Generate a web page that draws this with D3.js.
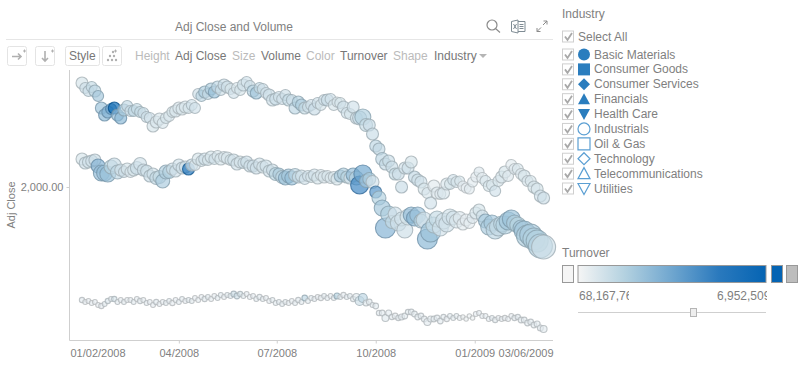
<!DOCTYPE html>
<html>
<head>
<meta charset="utf-8">
<script src="https://cdn.jsdelivr.net/npm/d3@7"></script>
<style>
  html, body { margin: 0; padding: 0; background: #fff; overflow: hidden; }
  svg { display: block; }
  text { font-family: "Liberation Sans", Arial, sans-serif; }
</style>
</head>
<body>
<div id="chart"></div>
<script>
// Adj Close, one value every 3 calendar days from 01/02/2008 to 03/06/2009
const closeA = [
  3040,2990,2960,3000,2960,2910,2790,2720,2750,2780,2790,2720,
  2690,2770,2810,2760,2760,2780,2750,2740,2700,2690,2610,2650,
  2680,2640,2690,2710,2750,2760,2790,2780,2800,2790,2820,2790,
  2930,2910,2950,2930,2980,2950,3000,2970,3020,3000,2980,2940,
  2990,2970,3020,3050,3010,2960,2940,2990,2980,2940,2920,2870,
  2880,2900,2880,2920,2870,2870,2790,2850,2820,2790,2800,2820,
  2780,2840,2820,2870,2870,2880,2820,2850,2840,2800,2740,2730,
  2800,2690,2690,2700,2620,2620,2530,2410,2380,2280,2230,2260,
  2200,2130,2130,2000,2190,2190,2250,2100,2070,2050,1980,1940,
  1840,2010,1940,1930,1940,2030,2030,2070,2050,2060,2010,1990,
  1980,2050,2100,2150,2090,2060,2010,2020,1960,2060,2100,2150,
  2110,2220,2180,2180,2130,2110,2060,2060,2000,1980,1910,1890
];
const closeB = [
  2280,2240,2250,2260,2270,2210,2140,2140,2130,2200,2220,2150,
  2170,2150,2180,2150,2170,2190,2230,2170,2160,2110,2130,2090,
  2100,2060,2150,2150,2180,2160,2220,2190,2200,2180,2220,2220,
  2280,2260,2280,2270,2300,2280,2310,2280,2300,2290,2270,2270,
  2230,2250,2240,2250,2210,2210,2190,2230,2200,2210,2160,2170,
  2130,2130,2100,2090,2110,2090,2120,2100,2110,2080,2110,2100,
  2120,2090,2120,2100,2110,2090,2100,2080,2110,2130,2100,2090,
  2120,2090,2020,2130,2060,2080,2050,1950,1890,1790,1590,1730,
  1650,1730,1640,1680,1570,1700,1720,1690,1720,1660,1670,1480,
  1550,1620,1680,1590,1660,1630,1700,1690,1660,1690,1630,1670,
  1640,1690,1740,1770,1710,1660,1600,1640,1570,1600,1630,1620,
  1660,1680,1640,1620,1590,1560,1510,1520,1480,1460,1410,1400
];
const closeC = [
  870,850,860,840,850,820,810,830,860,880,880,850,
  870,850,870,870,850,880,860,870,840,850,820,850,
  830,850,840,860,840,870,850,880,860,870,860,890,
  870,900,880,900,880,910,890,920,900,920,910,930,
  910,930,910,930,900,910,880,900,880,890,860,870,
  840,850,830,850,840,860,840,870,850,890,860,890,
  880,900,890,910,890,910,890,910,900,920,900,910,
  880,900,860,890,840,850,820,810,740,740,690,740,
  700,710,690,700,710,750,750,730,700,710,680,650,
  680,680,690,660,700,680,710,690,710,690,700,680,
  710,690,730,740,710,710,680,690,670,690,680,690,
  680,710,690,700,670,670,640,650,620,630,590,580
];

// Volume
const volumeA = [
  36,30,30,30,36,30,36,36,36,30,36,36,
  36,36,30,30,30,30,30,30,30,30,36,36,
  36,30,30,30,30,36,36,36,36,30,30,30,
  30,30,36,30,36,36,36,30,36,36,30,30,
  30,30,36,30,30,36,36,30,30,30,36,36,
  36,30,30,30,36,30,36,36,36,36,30,30,
  36,30,30,30,36,30,30,25,30,36,30,30,
  36,36,49,64,42,36,36,36,36,42,36,36,
  36,36,36,36,36,36,36,36,36,36,36,30,
  36,36,36,30,36,36,30,30,30,25,25,25,
  25,25,25,25,30,30,30,30,30,30,36,36,
  30,30,30,30,30,36,30,30,36,36,36,36
];
const volumeB = [
  36,36,36,36,36,49,64,64,64,49,49,49,
  36,30,36,30,36,42,42,36,36,36,36,42,
  42,49,49,42,36,36,36,36,36,36,36,30,
  36,30,36,30,36,30,30,36,30,36,30,36,
  36,36,30,36,36,36,36,36,36,36,36,36,
  42,36,42,49,49,49,42,36,36,30,30,30,
  36,36,30,36,30,30,30,36,36,36,36,36,
  49,49,81,81,42,42,42,36,49,64,100,64,
  42,49,64,49,64,64,64,64,64,49,64,100,
  100,64,64,64,64,64,64,49,49,42,36,36,
  30,30,36,36,36,49,64,64,81,81,64,81,
  81,81,64,64,64,100,121,121,121,121,144,144
];
const volumeC = [
  7,6,6,6,6,6,7,6,7,6,7,6,
  6,6,6,6,6,6,7,6,6,6,6,7,
  6,6,6,6,7,6,6,6,6,6,6,6,
  6,6,7,6,6,6,6,6,6,6,6,8,
  8,7,6,6,6,6,6,7,6,6,6,6,
  6,6,6,6,6,6,6,7,6,8,6,6,
  6,6,7,6,6,6,6,9,6,7,6,6,
  7,12,20,20,9,8,6,8,7,8,12,9,
  7,8,7,9,8,7,8,8,8,8,8,12,
  9,8,8,8,7,7,6,6,6,6,5,5,
  5,5,6,6,6,6,6,6,7,6,6,7,
  6,6,7,7,8,8,8,8,8,9,9,12
];

// Turnover in millions
const turnoverA = [
  900,1100,1200,1300,1500,2200,2400,2800,3000,3600,6900,2600,
  2800,1900,1400,1100,1500,1300,1300,1200,1100,1000,900,800,
  800,800,900,800,900,800,800,800,800,900,1000,1000,
  1100,1500,1900,1400,1900,2400,1500,1100,1200,1100,900,1000,
  800,900,1000,1000,1100,1700,2200,1300,1100,1000,1100,1000,
  1200,1000,1000,1100,1300,1200,1500,1700,1900,1300,1100,1000,
  1200,1100,900,1000,1200,1000,900,800,900,1100,1000,900,
  1000,1000,1200,1800,1300,1200,1200,1500,1400,1500,1400,1200,
  1200,1300,1100,1200,1000,1100,900,1400,1100,1000,900,800,
  1000,600,700,700,800,800,900,1000,900,800,500,500,
  600,600,500,700,600,800,900,800,1000,900,800,900,
  700,600,700,800,700,900,800,800,900,900,1000,1100
];
const turnoverB = [
  900,1000,1000,1000,1100,3000,2600,2500,2400,1600,1200,1500,
  1000,1100,900,800,900,1200,1000,1100,1100,1200,1000,1400,
  1300,2000,1900,1800,1100,1000,1000,1000,1100,6000,1200,800,
  900,900,1000,900,900,1000,800,900,800,800,900,1000,
  1000,900,1000,1100,1000,1100,1100,1000,900,1000,1000,1100,
  1600,1900,1500,2400,2200,2500,1500,1200,1000,1000,1000,900,
  1000,900,800,800,900,800,800,900,2000,1900,1600,1000,
  2600,1700,4800,3500,2100,1900,1000,4200,1800,2200,3000,1900,
  1300,1000,1000,1000,1100,900,2600,2800,2300,1700,1000,2800,
  2400,1300,1300,1000,1000,1000,1000,1000,800,700,600,500,
  500,700,800,900,1000,2200,2000,2100,1500,1400,1500,1700,
  2200,2400,1900,1600,2000,2200,1900,2000,1800,1800,1700,1100
];
const turnoverC = [
  500,400,400,400,400,400,400,500,700,500,800,500,
  400,500,400,400,500,400,500,400,500,400,400,500,
  400,400,500,500,400,400,500,500,400,500,500,400,
  400,400,500,500,400,400,500,500,400,500,500,1100,
  1000,800,500,400,400,400,500,500,500,400,400,500,
  500,500,500,500,400,400,500,500,500,1500,500,500,
  500,400,400,500,500,400,500,1700,500,400,500,500,
  500,600,1100,1500,600,500,500,500,500,500,600,500,
  500,400,500,500,500,500,500,500,500,500,500,500,
  500,500,500,500,500,400,500,500,500,400,300,300,
  300,300,400,400,400,400,400,500,500,400,400,400,
  400,400,500,500,500,500,500,500,500,500,500,500
];

const xTickDates = ["2008-01-02", "2008-04-01", "2008-07-01", "2008-10-01", "2009-01-01", "2009-03-06"];
const xTickLabels = ["01/02/2008", "04/2008", "07/2008", "10/2008", "01/2009", "03/06/2009"];
const yTicks = [2000];

const industries = ["Basic Materials", "Consumer Goods", "Consumer Services", "Financials", "Health Care",
  "Industrials", "Oil & Gas", "Technology", "Telecommunications", "Utilities"];
const turnoverStops = [68.16776, 1790, 3510, 5230, 6952.509];
const turnoverColors = ["#f5f5f5", "#b3d1e0", "#6fa6cf", "#2a79bd", "#0564b3"];
const toolbarLabels = [
  ["Height", 135, false], ["Adj Close", 175, true], ["Size", 232, false], ["Volume", 261, true],
  ["Color", 306, false], ["Turnover", 340, true], ["Shape", 393, false], ["Industry", 434, true]
];

const width = 802, height = 366;
const plot = { left: 69.5, right: 553, top: 70, bottom: 340 };
const grey = "#7f7f7f";

const svg = d3.select("#chart").append("svg").attr("width", width).attr("height", height);

const parseDay = d3.utcParse("%Y-%m-%d");
const dates = d3.utcDay.range(parseDay("2008-01-02"), parseDay("2009-03-07"), 3);

const x = d3.scaleUtc()
  .domain([parseDay("2008-01-02"), parseDay("2009-03-06")])
  .range([82, 543.6]);

const y = d3.scaleLinear()
  .domain([470, 3170])
  .range([plot.bottom, plot.top]);

const r = d3.scaleSqrt().domain([0, 144]).range([0, 12]);

const color = d3.scaleLinear()
  .domain(turnoverStops)
  .range(turnoverColors)
  .clamp(true);

// Title and toolbar
svg.append("text")
  .attr("x", 234).attr("y", 31)
  .attr("text-anchor", "middle")
  .attr("fill", grey)
  .style("font-size", "12px")
  .text("Adj Close and Volume");

svg.append("line")
  .attr("x1", 6).attr("x2", 553).attr("y1", 39.5).attr("y2", 39.5)
  .attr("stroke", "#e6e6e6");

const buttons = [[7.5, 19], [35.5, 19], [65.5, 34], [102.5, 19]];
svg.selectAll(".btn")
  .data(buttons)
  .join("rect")
  .attr("class", "btn")
  .attr("x", d => d[0]).attr("y", 46.5)
  .attr("width", d => d[1]).attr("height", 19)
  .attr("rx", 2)
  .attr("fill", "#fff")
  .attr("stroke", "#e4e4e4");

svg.append("text")
  .attr("x", 69).attr("y", 60)
  .attr("fill", "#777")
  .style("font-size", "12px")
  .text("Style");

// toolbar icons
const iconGrey = "#b0b0b0";
svg.append("path")
  .attr("d", "M12 56.5H21M18 53.5l3 3-3 3")
  .attr("fill", "none").attr("stroke", iconGrey).attr("stroke-width", 1.6);
svg.append("path")
  .attr("d", "M23 51H26M24.5 49.5V52.5M51 51H54M52.5 49.5V52.5M114 51H117M115.5 49.5V52.5")
  .attr("fill", "none").attr("stroke", iconGrey);
svg.append("path")
  .attr("d", "M45 51V61M42 58l3 3 3-3")
  .attr("fill", "none").attr("stroke", iconGrey).attr("stroke-width", 1.6);
const dots = [[113, 52], [110, 56], [114, 56], [108, 60], [112, 60], [116, 60]];
svg.selectAll(".dot")
  .data(dots)
  .join("circle")
  .attr("class", "dot")
  .attr("cx", d => d[0]).attr("cy", d => d[1])
  .attr("r", 1.2)
  .attr("fill", iconGrey);

svg.selectAll(".tbl")
  .data(toolbarLabels)
  .join("text")
  .attr("class", "tbl")
  .attr("x", d => d[1]).attr("y", 60)
  .attr("fill", d => d[2] ? "#777" : "#bbb")
  .style("font-size", "12px")
  .text(d => d[0]);

svg.append("path").attr("d", "M479 54H487L483 58Z").attr("fill", "#b5b5b5");

// search / excel / expand
svg.append("circle").attr("cx", 492).attr("cy", 25).attr("r", 5)
  .attr("fill", "none").attr("stroke", "#8a8a8a").attr("stroke-width", 1.2);
svg.append("path").attr("d", "M495.5 28.5L500 32.5")
  .attr("stroke", "#8a8a8a").attr("stroke-width", 1.2);
svg.append("path").attr("d", "M511.5 21.5L518 20V33L511.5 31.5ZM518 21.5H525V31.5H518M519.5 24.5H523.5M519.5 26.5H523.5M519.5 28.5H523.5M513.5 24l3 5M516.5 24l-3 5")
  .attr("fill", "none").attr("stroke", "#7f8c94");
svg.append("path").attr("d", "M537 31.5L541 27.5M537 31.5V28M537 31.5H540.5M547 21L543 25M547 21V24.5M547 21H543.5")
  .attr("fill", "none").attr("stroke", "#8a8a8a");

// Axes
svg.append("line")
  .attr("x1", plot.left).attr("x2", plot.left).attr("y1", plot.top).attr("y2", plot.bottom + 0.5)
  .attr("stroke", "#cfcfcf");
svg.append("line")
  .attr("x1", plot.left).attr("x2", plot.right).attr("y1", plot.bottom + 0.5).attr("y2", plot.bottom + 0.5)
  .attr("stroke", "#cfcfcf");

svg.append("g")
  .attr("transform", `translate(0,${plot.bottom + 0.5})`)
  .call(d3.axisBottom(x)
    .tickValues(xTickDates.map(parseDay))
    .tickFormat((d, i) => xTickLabels[i])
    .tickSize(3)
    .tickPadding(6))
  .call(g => g.select(".domain").remove())
  .call(g => g.selectAll(".tick line").attr("stroke", "#cfcfcf")
    .attr("display", (d, i) => (i === 0 || i === xTickDates.length - 1) ? "none" : null))
  .call(g => g.selectAll(".tick text")
    .attr("fill", grey)
    .style("font-size", "11px")
    .style("font-family", '"Liberation Sans", Arial, sans-serif')
    .attr("text-anchor", (d, i) => i === 0 ? "start" : i === xTickDates.length - 1 ? "end" : "middle")
    .attr("dx", (d, i) => i === 0 ? -12 : i === xTickDates.length - 1 ? 9.5 : 0));

svg.append("g")
  .attr("transform", `translate(${plot.left},0)`)
  .call(d3.axisLeft(y)
    .tickValues(yTicks)
    .tickFormat(d3.format(",.2f"))
    .tickSize(3)
    .tickPadding(3))
  .call(g => g.select(".domain").remove())
  .call(g => g.selectAll(".tick line").attr("stroke", "#cfcfcf"))
  .call(g => g.selectAll(".tick text")
    .attr("fill", grey)
    .style("font-size", "11px")
    .style("font-family", '"Liberation Sans", Arial, sans-serif'));

svg.append("text")
  .attr("transform", `translate(15,${(plot.top + plot.bottom) / 2}) rotate(-90)`)
  .attr("text-anchor", "middle")
  .attr("fill", grey)
  .style("font-size", "11px")
  .text("Adj Close");

// Bubbles
const series = [
  [closeC, volumeC, turnoverC],
  [closeA, volumeA, turnoverA],
  [closeB, volumeB, turnoverB]
];

const points = [];
series.forEach(([close, volume, turnover]) => {
  dates.forEach((date, i) => {
    points.push({ date, close: close[i], volume: volume[i], turnover: turnover[i] });
  });
});

svg.append("g")
  .selectAll("circle")
  .data(points)
  .join("circle")
  .attr("cx", d => x(d.date))
  .attr("cy", d => y(d.close))
  .attr("r", d => r(d.volume))
  .attr("fill", d => color(d.turnover))
  .attr("fill-opacity", 0.68)
  .attr("stroke", d => d3.color(color(d.turnover)).darker(0.7))
  .attr("stroke-opacity", 0.8)
  .attr("stroke-width", 1.1);

// Industry legend
const legendX = 562;

function checkbox(g, cy) {
  g.append("rect")
    .attr("x", legendX + 0.5).attr("y", cy - 5.5)
    .attr("width", 11).attr("height", 11)
    .attr("fill", "#fff").attr("stroke", "#cfcfcf");
  g.append("path")
    .attr("d", `M${legendX + 3} ${cy}l2.5 3.5 4.5-7`)
    .attr("fill", "none").attr("stroke", "#a8a8a8").attr("stroke-width", 1.8);
}

svg.append("text")
  .attr("x", legendX).attr("y", 18)
  .attr("fill", grey)
  .style("font-size", "12px")
  .text("Industry");

checkbox(svg.append("g"), 36.5);
svg.append("text")
  .attr("x", 578).attr("y", 41)
  .attr("fill", grey)
  .style("font-size", "12px")
  .text("Select All");

const legendY = d3.scalePoint().domain(industries).range([54.5, 188.5]);
const symbolPaths = [
  "M0-6A6 6 0 1 1 0 6A6 6 0 1 1 0-6Z",
  "M-6-6H6V6H-6Z",
  "M0-6L6 0L0 6L-6 0Z",
  "M0-6L6 5H-6Z",
  "M0 6L6-5H-6Z"
];
const legendItems = svg.selectAll(".item")
  .data(industries)
  .join("g")
  .attr("class", "item");

legendItems.each(function (d) {
  const g = d3.select(this);
  checkbox(g, legendY(d));
});

legendItems.append("path")
  .attr("transform", d => `translate(584,${legendY(d)})`)
  .attr("d", (d, i) => symbolPaths[i % 5])
  .attr("fill", (d, i) => i < 5 ? "#2a7dbe" : "none")
  .attr("stroke", (d, i) => i < 5 ? "none" : "#5b9fd3")
  .attr("stroke-width", 1.2);

legendItems.append("text")
  .attr("x", 594)
  .attr("y", d => legendY(d) + 4)
  .attr("fill", grey)
  .style("font-size", "12px")
  .text(d => d);

// Turnover legend
const defs = svg.append("defs");
const gradient = defs.append("linearGradient").attr("id", "turnoverGrad");
turnoverColors.forEach((c, i) => {
  gradient.append("stop")
    .attr("offset", `${(turnoverStops[i] - turnoverStops[0]) / (turnoverStops[4] - turnoverStops[0]) * 100}%`)
    .attr("stop-color", c);
});
defs.append("clipPath").attr("id", "minClip").append("rect")
  .attr("x", 579).attr("y", 285).attr("width", 50).attr("height", 20);
defs.append("clipPath").attr("id", "maxClip").append("rect")
  .attr("x", 717).attr("y", 285).attr("width", 50).attr("height", 20);

svg.append("text")
  .attr("x", legendX).attr("y", 257)
  .attr("fill", grey)
  .style("font-size", "12px")
  .text("Turnover");

const swatches = [[562.5, 11, "#f5f5f5"], [578, 188, "url(#turnoverGrad)"], [771.5, 11, "#0564b3"], [786.5, 11, "#bdbdbd"]];
svg.selectAll(".swatch")
  .data(swatches)
  .join("rect")
  .attr("class", "swatch")
  .attr("x", d => d[0]).attr("y", 265.5)
  .attr("width", d => d[1]).attr("height", 17)
  .attr("fill", d => d[2])
  .attr("stroke", "#999");

svg.append("text")
  .attr("x", 579).attr("y", 300)
  .attr("clip-path", "url(#minClip)")
  .attr("fill", grey)
  .style("font-size", "12px")
  .text("68,167,768");
svg.append("text")
  .attr("x", 717).attr("y", 300)
  .attr("clip-path", "url(#maxClip)")
  .attr("fill", grey)
  .style("font-size", "12px")
  .text("6,952,509,000");

svg.append("line")
  .attr("x1", 578).attr("x2", 766).attr("y1", 312.5).attr("y2", 312.5)
  .attr("stroke", "#cfcfcf");
svg.append("rect")
  .attr("x", 690.5).attr("y", 308.5).attr("width", 6).attr("height", 8)
  .attr("fill", "#eee").attr("stroke", "#b5b5b5");
</script>
</body>
</html>
